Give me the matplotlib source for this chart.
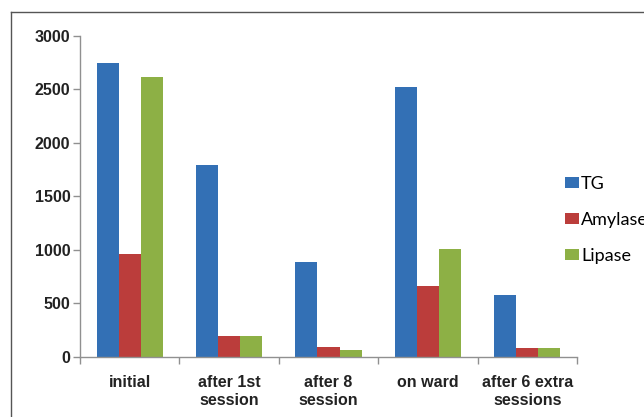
import matplotlib.pyplot as plt
from matplotlib.lines import Line2D
import numpy as np

categories = ["initial", "after 1st\nsession", "after 8\nsession", "on ward", "after 6 extra\nsessions"]
tg = [2740, 1790, 890, 2520, 575]
amylase = [960, 200, 95, 660, 85]
lipase = [2615, 200, 62, 1005, 85]

series = [("TG", tg, "#3370b5"), ("Amylase", amylase, "#bb3d3b"), ("Lipase", lipase, "#8db045")]

W, H = 644, 417
fig = plt.figure(figsize=(W / 100, H / 100), dpi=100)
ax = fig.add_axes([80 / W, 1 - 357 / H, (577 - 80) / W, (357 - 35.5) / H])

x = np.arange(len(categories))
bw = 0.222
for i, (name, vals, col) in enumerate(series):
    ax.bar(x + (i - 1) * bw, vals, bw, color=col, label=name, edgecolor="none")

ax.set_xlim(-0.5, len(categories) - 0.5)
ax.set_ylim(0, 3000)
ax.set_yticks(range(0, 3001, 500))
ax.set_xticks(np.arange(len(categories) + 1) - 0.5)
ax.set_xticklabels([])
ax.set_xticks(x, minor=True)
ax.set_xticklabels(categories, minor=True, fontsize=11.5, fontweight="bold",
                   family="Liberation Sans", color="#222222", linespacing=1.25)
ax.tick_params(axis="x", which="minor", length=0, pad=13)
ax.tick_params(axis="x", which="major", length=5, color="#909090", width=1)
ax.tick_params(axis="y", length=5, color="#909090", width=1, pad=2)
for lbl in ax.get_yticklabels():
    lbl.set_fontweight("bold")
    lbl.set_fontsize(11.5)
    lbl.set_family("Liberation Sans")
    lbl.set_color("#222222")

for s in ["top", "right"]:
    ax.spines[s].set_visible(False)
for s in ["left", "bottom"]:
    ax.spines[s].set_color("#909090")
    ax.spines[s].set_linewidth(1)

ax.legend(loc="upper left", bbox_to_anchor=(565 / W, 1 - 176 / H), bbox_transform=fig.transFigure,
          frameon=False, borderpad=0, borderaxespad=0, handlelength=0.78, handleheight=0.6,
          handletextpad=0.1, labelspacing=1.1, prop={"family": "Lato", "size": 13})

# outer frame of the original chart
fig.add_artist(Line2D([11 / W, 1.0], [1 - 12 / H, 1 - 12 / H], color="#555555", lw=1))
fig.add_artist(Line2D([11 / W, 11 / W], [0, 1 - 12 / H], color="#555555", lw=1))

fig.savefig("out.png", dpi=100)
